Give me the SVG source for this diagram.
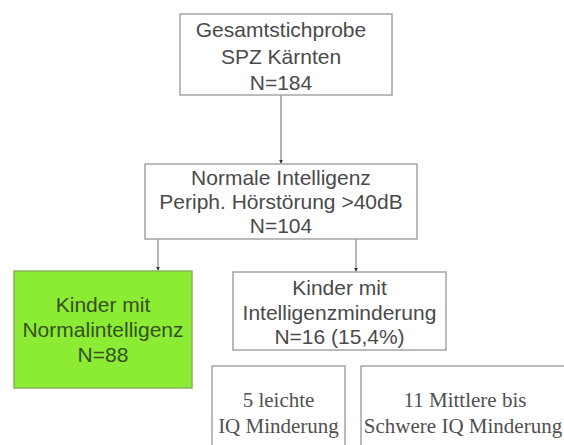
<svg xmlns="http://www.w3.org/2000/svg" width="564" height="445" viewBox="0 0 564 445">
<defs>
<style>
.box{fill:#ffffff;stroke:#a4a4a4;stroke-width:1.5}
.green{fill:#8cec34;stroke:#86b45c;stroke-width:1.5}
.t{font-family:"Liberation Sans",Arial,sans-serif;font-size:21px;fill:#4a4a4a;text-anchor:middle}
.tg{font-family:"Liberation Sans",Arial,sans-serif;font-size:21px;fill:#34501f;text-anchor:middle}
.ts{font-family:"Liberation Serif","Times New Roman",serif;font-size:21px;fill:#505050;text-anchor:middle}
.c{stroke:#8c8c8c;stroke-width:1.3;fill:none;marker-end:url(#ah)}
</style>
<marker id="ah" viewBox="0 0 6 6" refX="5" refY="3" markerWidth="4" markerHeight="4" markerUnits="userSpaceOnUse" orient="auto">
<path d="M0,0 L6,3 L0,6 z" fill="#303030"/>
</marker>
</defs>
<rect width="564" height="445" fill="#ffffff"/>
<g id="connectors">
<line class="c" x1="281" y1="95" x2="281" y2="163"/>
<line class="c" x1="158" y1="239" x2="158" y2="270"/>
<line class="c" x1="356" y1="239" x2="356" y2="271"/>
</g>
<g id="n1">
<rect class="box" x="180" y="14" width="212" height="81"/>
<text class="t" x="281" y="37">Gesamtstichprobe</text>
<text class="t" x="281" y="64">SPZ Kärnten</text>
<text class="t" x="281" y="90">N=184</text>
</g>
<g id="n2">
<rect class="box" x="145" y="164" width="272" height="75"/>
<text class="t" x="281" y="185">Normale Intelligenz</text>
<text class="t" x="281" y="209">Periph. Hörstörung &gt;40dB</text>
<text class="t" x="281" y="233">N=104</text>
</g>
<g id="n3">
<rect class="green" x="14" y="271" width="178" height="117"/>
<text class="tg" x="103" y="312">Kinder mit</text>
<text class="tg" x="103" y="337">Normalintelligenz</text>
<text class="tg" x="103" y="362">N=88</text>
</g>
<g id="n4">
<rect class="box" x="233" y="272" width="213" height="78"/>
<text class="t" x="339.5" y="295">Kinder mit</text>
<text class="t" x="339.5" y="320">Intelligenzminderung</text>
<text class="t" x="339.5" y="344">N=16 (15,4%)</text>
</g>
<g id="n5">
<rect class="box" x="212" y="366" width="133" height="90"/>
<text class="ts" x="278.5" y="407">5 leichte</text>
<text class="ts" x="278.5" y="433">IQ Minderung</text>
</g>
<g id="n6">
<rect class="box" x="361" y="366" width="211" height="90"/>
<text class="ts" x="465" y="407">11 Mittlere bis</text>
<text class="ts" x="463" y="433">Schwere IQ Minderung</text>
</g>
</svg>
